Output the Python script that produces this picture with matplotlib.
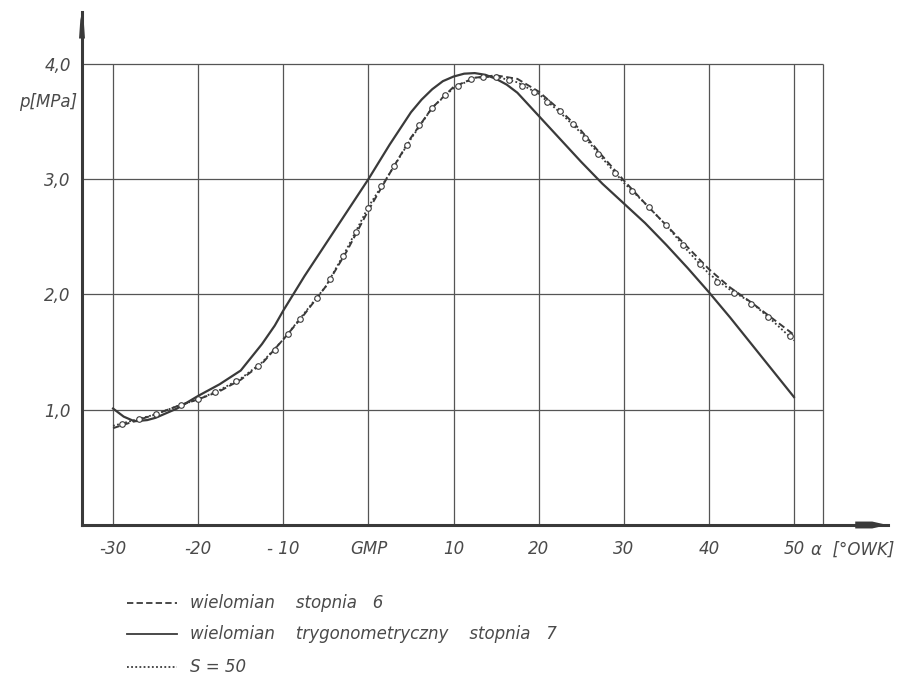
import matplotlib
matplotlib.use('agg')
import matplotlib.pyplot as plt
from matplotlib.lines import Line2D

# crank angle [deg] for the dashed and dotted curves
angle = [-30, -27.5, -25, -22.5, -20, -17.5, -15, -12.5, -10, -7.5, -5, -2.5, 0,
         2.5, 5, 7.5, 10, 12.5, 15, 17.5, 20, 22.5, 25, 27.5, 30, 32.5, 35,
         37.5, 40, 42.5, 45, 47.5, 50]

# wielomian stopnia 6 (dashed)
p_poly6 = [0.84, 0.90, 0.96, 1.03, 1.09, 1.16, 1.26, 1.40, 1.61, 1.83, 2.07, 2.38, 2.73,
           3.05, 3.36, 3.62, 3.80, 3.88, 3.90, 3.87, 3.76, 3.60, 3.42, 3.20, 2.99, 2.79,
           2.60, 2.41, 2.22, 2.06, 1.93, 1.79, 1.65]

# S = 50 (dotted)
p_s50 = [0.86, 0.91, 0.96, 1.03, 1.09, 1.17, 1.27, 1.41, 1.61, 1.84, 2.07, 2.40, 2.76,
         3.05, 3.35, 3.62, 3.79, 3.88, 3.89, 3.84, 3.74, 3.58, 3.40, 3.18, 2.97, 2.79,
         2.60, 2.38, 2.18, 2.04, 1.93, 1.77, 1.60]

# wielomian trygonometryczny stopnia 7 (solid)
angle_trig = [-30, -28.75, -27.5, -26, -25, -22.5, -20, -17.5, -15, -12.5, -11, -10,
              -7.5, -5, -2.5, 0, 2.5, 5, 6.25, 7.5, 8.75, 10, 11.25, 12.5, 13.75, 15,
              16.25, 17.5, 20, 22.5, 25, 27.5, 30, 32.5, 35, 37.5, 40, 42.5, 45, 47.5, 50]
p_trig7 = [1.01, 0.94, 0.90, 0.91, 0.93, 1.01, 1.12, 1.22, 1.34, 1.57, 1.73, 1.86,
           2.16, 2.44, 2.72, 3.00, 3.30, 3.58, 3.69, 3.78, 3.85, 3.89, 3.915, 3.92, 3.905,
           3.87, 3.82, 3.75, 3.55, 3.35, 3.15, 2.96, 2.79, 2.62, 2.43, 2.23, 2.02, 1.80,
           1.57, 1.34, 1.11]

# measured points (open circles)
meas_angle = [-29, -27, -25, -22, -20, -18, -15.5, -13, -11, -9.5, -8, -6, -4.5, -3, -1.5,
              0, 1.5, 3, 4.5, 6, 7.5, 9, 10.5, 12, 13.5, 15, 16.5, 18, 19.5, 21, 22.5,
              24, 25.5, 27, 29, 31, 33, 35, 37, 39, 41, 43, 45, 47, 49.5]
meas_p = [0.88, 0.92, 0.96, 1.04, 1.09, 1.15, 1.25, 1.38, 1.52, 1.66, 1.79, 1.97, 2.13,
          2.33, 2.54, 2.75, 2.94, 3.11, 3.30, 3.47, 3.62, 3.73, 3.81, 3.87, 3.89, 3.89,
          3.86, 3.81, 3.76, 3.67, 3.59, 3.48, 3.36, 3.22, 3.05, 2.90, 2.76, 2.60, 2.43,
          2.26, 2.11, 2.01, 1.92, 1.80, 1.64]

x_ticks = [-30, -20, -10, 0, 10, 20, 30, 40, 50]
x_labels = ['-30', '-20', '- 10', 'GMP', '10', '20', '30', '40', '50']
y_ticks = [1, 2, 3, 4]
y_labels = ['1,0', '2,0', '3,0', '4,0']

ink = '#3a3a3a'
txt = '#4a4a4a'
plt.rcParams['font.family'] = ['DejaVu Sans']

fig = plt.figure(figsize=(9.06, 6.83), dpi=100)
W, H = 906, 683
# axes run past the grid frame so the axis arrows fit inside them
x0, x1 = 82, 888
y_bot, y_top = 525, 12
ax = fig.add_axes([x0 / W, 1 - y_bot / H, (x1 - x0) / W, (y_bot - y_top) / H])
ax.set_xlim(-33.65, 61.05)
ax.set_ylim(0, 4.45)
for s in ['top', 'right']:
    ax.spines[s].set_visible(False)
for s in ['left', 'bottom']:
    ax.spines[s].set_linewidth(2.2)
    ax.spines[s].set_color(ink)

x_left, x_right = -33.65, 53.4
# grid drawn by hand so it stops at the frame
ax.hlines(y_ticks, x_left, x_right, color='#555555', lw=0.9, zorder=1)
ax.vlines(x_ticks, 0, 4.0, color='#555555', lw=0.9, zorder=1)
ax.vlines([x_right], 0, 4.0, color='#555555', lw=0.9, zorder=1)

# axis arrow tips
ax.fill([x_left - 0.35, x_left + 0.35, x_left + 0.2, x_left, x_left - 0.2],
        [4.22, 4.22, 4.38, 4.45, 4.38], color=ink, clip_on=False, lw=0)
ax.fill([57.2, 59.2, 61.0, 59.2, 57.2], [-0.03, -0.03, 0, 0.03, 0.03],
        color=ink, clip_on=False, lw=0)

ax.set_xticks(x_ticks)
ax.set_xticklabels(x_labels, fontsize=12, style='italic', color=txt)
ax.set_yticks(y_ticks)
ax.set_yticklabels(y_labels, fontsize=12, style='italic', color=txt)
ax.tick_params(axis='x', length=0, pad=11)
ax.tick_params(axis='y', length=0, pad=8)
ax.annotate('\u03b1  [\u00b0OWK]', xy=(52.0, 0), xycoords=('data', 'axes fraction'),
            xytext=(0, -11), textcoords='offset points', fontsize=12, style='italic',
            color=txt, ha='left', va='top', annotation_clip=False)
ax.text(-34.2, 3.67, 'p[MPa]', fontsize=12, style='italic', color=txt,
        ha='right', va='center', clip_on=False)

ax.plot(angle, p_poly6, color=ink, lw=1.4, ls=(0, (3.5, 1.8)), zorder=3)
ax.plot(angle_trig, p_trig7, color=ink, lw=1.6, zorder=3)
ax.plot(angle, p_s50, color=ink, lw=1.3, ls=(0, (1, 1.3)), zorder=3)
ax.plot(meas_angle, meas_p, ls='none', marker='o', ms=4, mfc='white', mec=ink,
        mew=0.8, zorder=4)

# legend below the chart
legend_rows = [
    (603, (0, (3.5, 1.8)), 'wielomian    stopnia   6'),
    (634, '-', 'wielomian    trygonometryczny    stopnia   7'),
    (667, (0, (1, 1.3)), 'S = 50'),
]
for y, ls, label in legend_rows:
    fig.add_artist(Line2D([127 / W, 177 / W], [1 - y / H, 1 - y / H], color=ink,
                          lw=1.3, ls=ls, transform=fig.transFigure))
    fig.text(190 / W, 1 - y / H, label, fontsize=12, style='italic', color=txt,
             ha='left', va='center')

fig.savefig('out.png', dpi=100, facecolor='white')
